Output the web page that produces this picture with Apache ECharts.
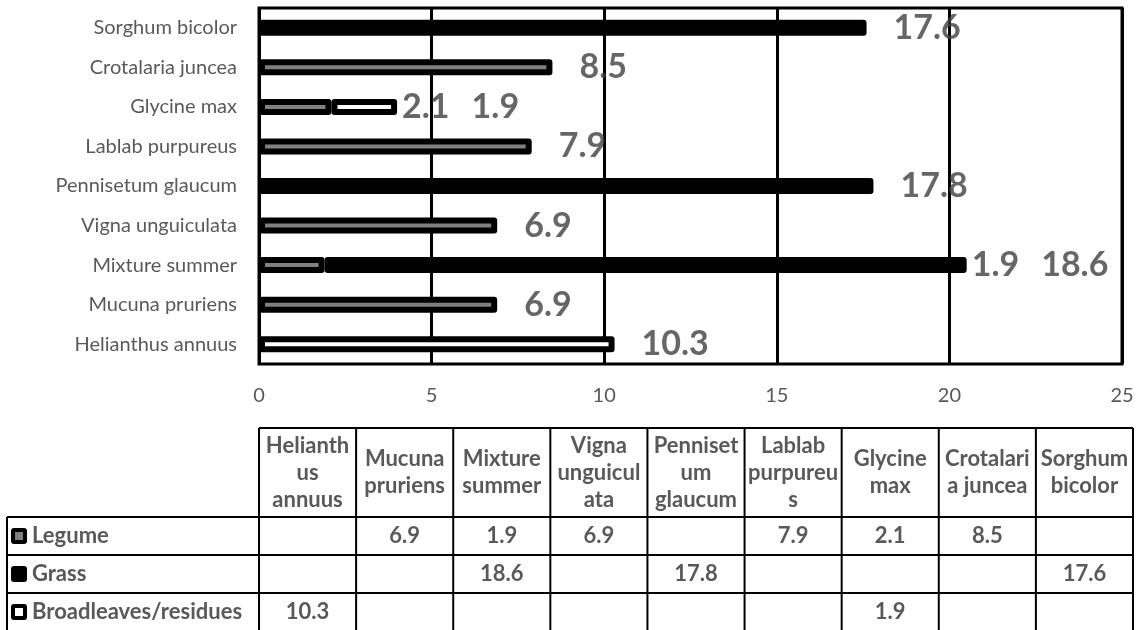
<!DOCTYPE html>
<html>
<head>
<meta charset="utf-8">
<script src="https://cdn.jsdelivr.net/npm/echarts@6/dist/echarts.min.js"></script>
<style>
  html, body { margin: 0; padding: 0; background: #fff; }
  #chart { width: 1141px; height: 630px; }
</style>
</head>
<body>
<div id="chart"></div>
<script>
// Crops, bottom to top on the bar axis and left to right in the table
const categories = ['Helianthus annuus', 'Mucuna pruriens', 'Mixture summer', 'Vigna unguiculata',
  'Pennisetum glaucum', 'Lablab purpureus', 'Glycine max', 'Crotalaria juncea', 'Sorghum bicolor'];
// Column headings as wrapped in the data table
const tableHeaders = ['Helianth\nus\nannuus', 'Mucuna\npruriens', 'Mixture\nsummer', 'Vigna\nunguicul\nata',
  'Penniset\num\nglaucum', 'Lablab\npurpureu\ns', 'Glycine\nmax', 'Crotalari\na juncea', 'Sorghum\nbicolor'];
const seriesNames = ['Legume', 'Grass', 'Broadleaves/residues'];
const legume      = [null, 6.9, 1.9, 6.9, null, 7.9, 2.1, 8.5, null];
const grass       = [null, null, 18.6, null, 17.8, null, null, null, 17.6];
const broadleaves = [10.3, null, null, null, null, null, 1.9, null, null];
const xTicks = [0, 5, 10, 15, 20, 25];

const FONT = 'Lato, "Open Sans", sans-serif';
const TEXT_GREY = '#595959';
const seriesValues = [legume, grass, broadleaves];
const seriesFill = ['#808080', '#000000', '#ffffff'];

// Layout of the plot and the data table underneath
const plot = { left: 259, top: 8, width: 863, height: 356 };
const table = { left: 259, right: 1133, headLeft: 7, top: 428, headerH: 89, rowH: 38 };
const colW = (table.right - table.left) / categories.length;

const barSeries = seriesNames.map((name, s) => ({
  name,
  type: 'bar',
  stack: 'cover',
  barWidth: 16,
  data: seriesValues[s],
  itemStyle: {
    color: seriesFill[s],
    borderColor: '#000',
    borderWidth: 6,
    borderJoin: 'round'
  },
  emphasis: { disabled: true }
}));

// One label per crop, placed after the end of its stacked bar
const labelData = categories.map((c, i) => {
  const parts = seriesValues.map(a => a[i]).filter(v => v != null);
  const total = parts.reduce((a, b) => a + b, 0);
  return { value: [total, i], label: { distance: parts.length > 1 ? 5 : 27 } };
});

const LABEL_FONT = { fontFamily: FONT, fontWeight: 'bold', fontSize: 34, color: '#404040' };
const labelSeries = {
  type: 'scatter',
  data: labelData,
  symbolSize: 0,
  z: 10,
  silent: true,
  label: Object.assign({
    show: true,
    position: 'right',
    formatter: p => seriesValues.map(a => a[p.dataIndex]).filter(v => v != null)
      .map(v => '{v|' + v.toFixed(1) + '}').join('{g|}'),
    rich: { v: LABEL_FONT, g: { width: 22 } }
  }, LABEL_FONT)
};

// Data table drawn as graphic elements
const graphics = [];
const line = (x1, y1, x2, y2) => graphics.push({
  type: 'line', silent: true,
  shape: { x1, y1, x2, y2 },
  style: { stroke: '#000', lineWidth: 2 }
});
const text = (str, x, y, align, extra) => graphics.push({
  type: 'text', silent: true,
  style: Object.assign({
    text: str, x, y, align, verticalAlign: 'middle',
    font: 'bold 22px ' + FONT, fill: TEXT_GREY, lineHeight: 27
  }, extra || {})
});

const rowsTop = table.top + table.headerH;
const tableBottom = rowsTop + table.rowH * seriesNames.length;
line(table.left, table.top, table.right, table.top);
for (let k = 0; k <= categories.length; k++) {
  const x = table.left + k * colW;
  line(x, table.top, x, tableBottom);
}
line(table.headLeft, rowsTop, table.headLeft, tableBottom);
for (let r = 0; r <= seriesNames.length; r++) {
  const y = rowsTop + r * table.rowH;
  line(table.headLeft, y, table.right, y);
}
tableHeaders.forEach((h, i) => {
  text(h, table.left + (i + 0.5) * colW, table.top + table.headerH / 2, 'center');
});
seriesNames.forEach((name, s) => {
  const cy = rowsTop + (s + 0.5) * table.rowH;
  // legend key
  graphics.push({
    type: 'rect', silent: true,
    shape: { x: table.headLeft + 4, y: cy - 8, width: 16, height: 16, r: 3 },
    style: { fill: '#000' }
  });
  if (s !== 1) {
    graphics.push({
      type: 'rect', silent: true,
      shape: { x: table.headLeft + 8, y: cy - 4, width: 8, height: 8 },
      style: { fill: seriesFill[s] }
    });
  }
  text(name, table.headLeft + 25, cy, 'left');
  seriesValues[s].forEach((v, i) => {
    if (v != null) text(v.toFixed(1), table.left + (i + 0.5) * colW, cy, 'center');
  });
});

const chart = echarts.init(document.getElementById('chart'), null, { renderer: 'canvas' });
chart.setOption({
  animation: false,
  backgroundColor: '#fff',
  grid: {
    left: plot.left, top: plot.top, width: plot.width, height: plot.height,
    show: true, borderColor: '#000', borderWidth: 3, backgroundColor: 'transparent'
  },
  xAxis: {
    type: 'value',
    min: xTicks[0],
    max: xTicks[xTicks.length - 1],
    interval: xTicks[1] - xTicks[0],
    axisLine: { show: false },
    axisTick: { show: false },
    splitLine: { show: true, lineStyle: { color: '#000', width: 3 } },
    axisLabel: { color: TEXT_GREY, fontFamily: FONT, fontSize: 20, margin: 22 }
  },
  yAxis: {
    type: 'category',
    data: categories,
    axisLine: { show: true, lineStyle: { color: '#000', width: 2 } },
    axisTick: { show: false },
    splitLine: { show: false },
    axisLabel: { color: TEXT_GREY, fontFamily: FONT, fontSize: 20, margin: 22 }
  },
  series: barSeries.concat([labelSeries]),
  graphic: { elements: graphics }
});
</script>
</body>
</html>
